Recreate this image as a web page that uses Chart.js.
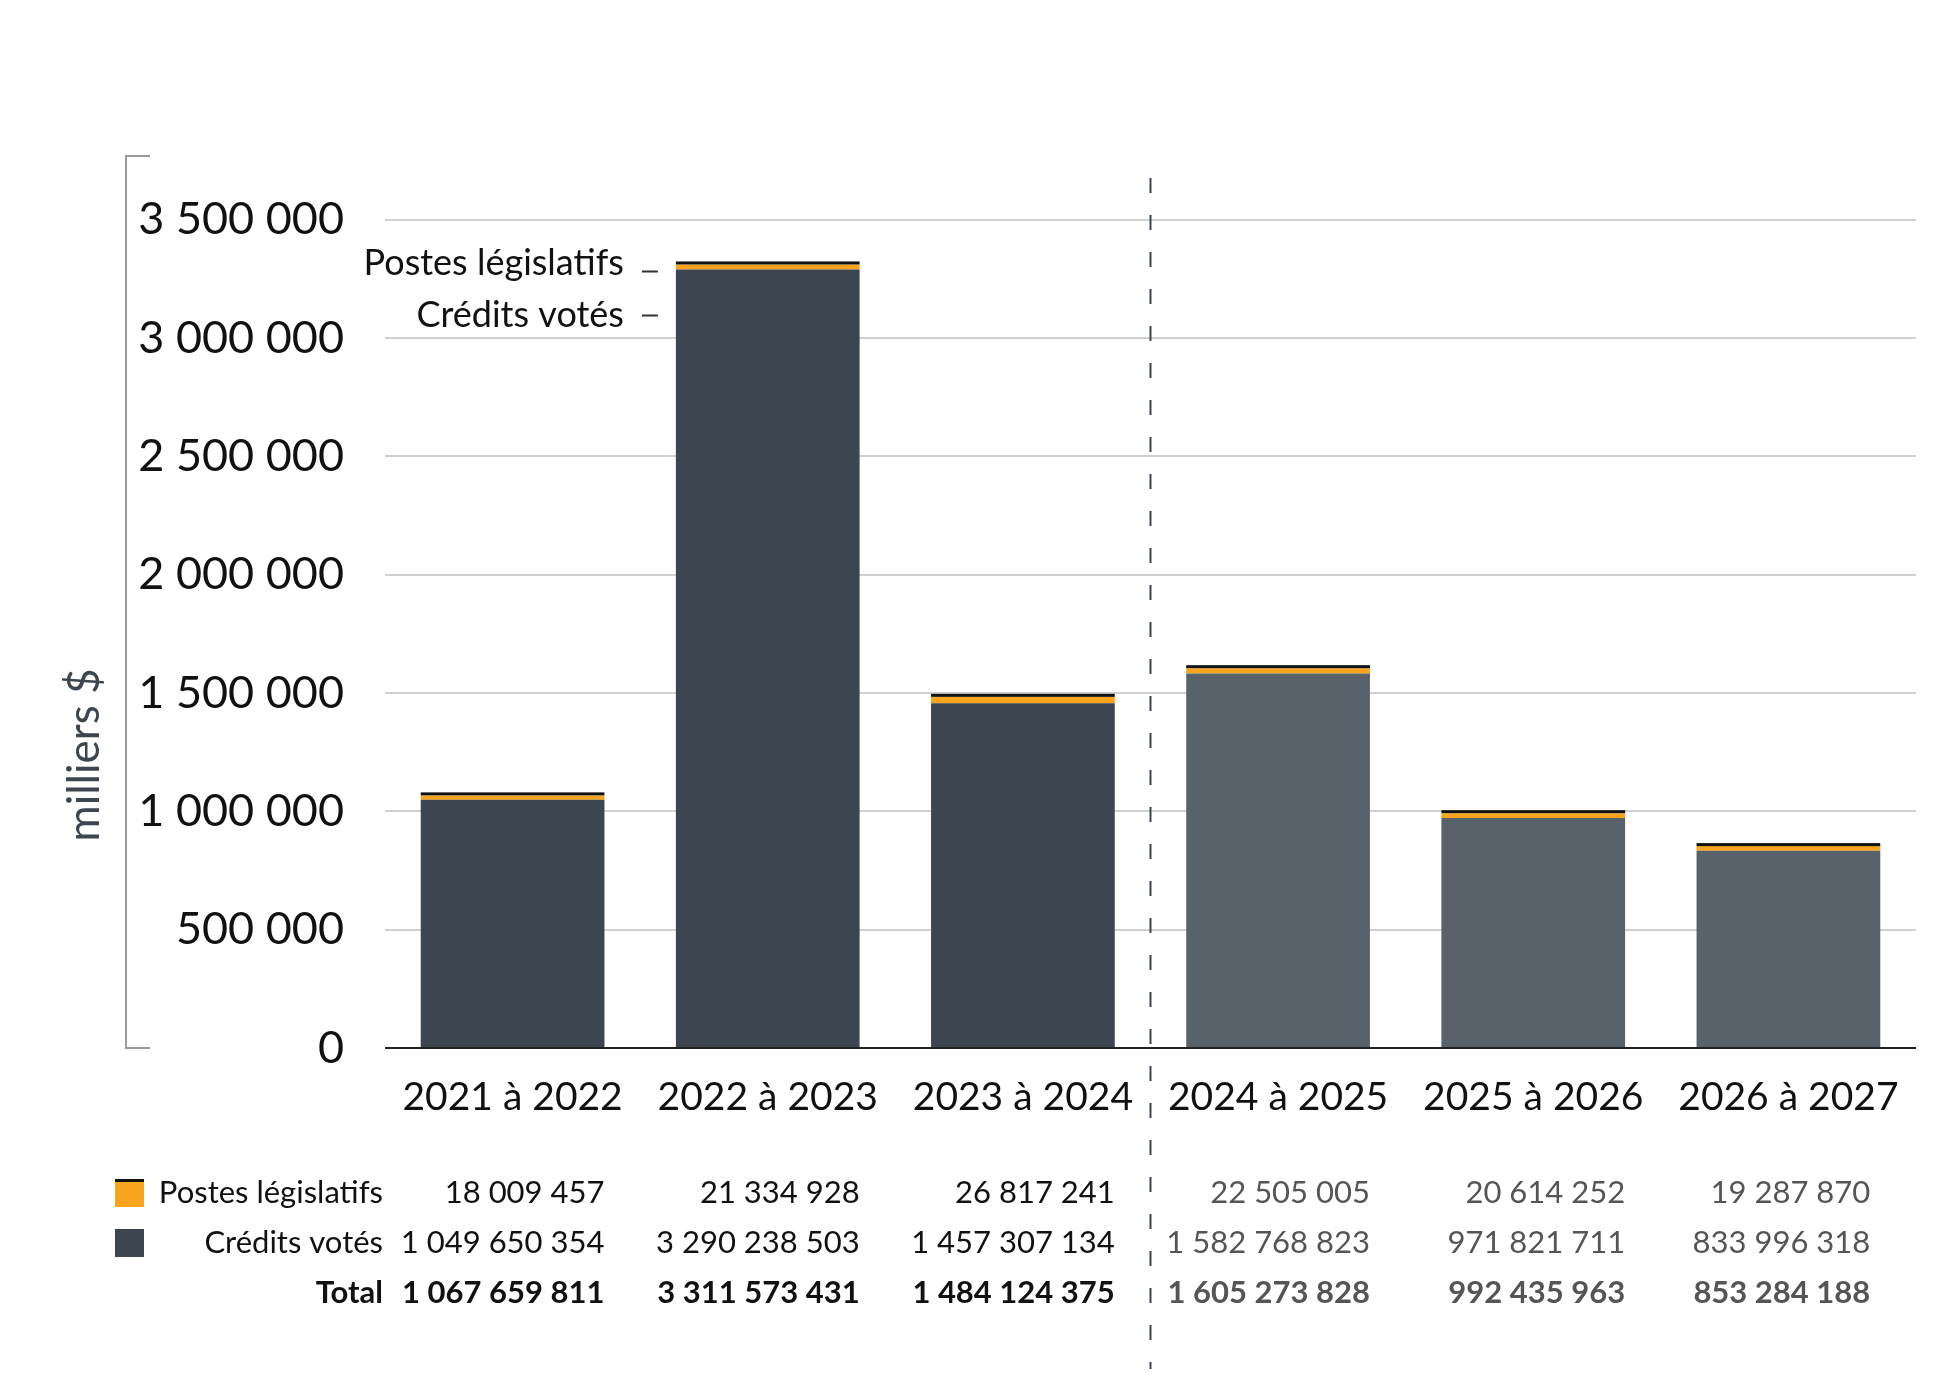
<!DOCTYPE html>
<html>
<head>
<meta charset="utf-8">
<script src="https://cdn.jsdelivr.net/npm/chart.js@4.4.1/dist/chart.umd.min.js"></script>
<style>
  html, body { margin: 0; padding: 0; background: #fff; }
  #wrap { width: 1947px; height: 1375px; position: relative; }
</style>
</head>
<body>
<div id="wrap"><canvas id="c"></canvas></div>
<script>
// ---- Data ----
const categories = ['2021 à 2022', '2022 à 2023', '2023 à 2024', '2024 à 2025', '2025 à 2026', '2026 à 2027'];
const postesLegislatifs = [18009457, 21334928, 26817241, 22505005, 20614252, 19287870];
const creditsVotes = [1049650354, 3290238503, 1457307134, 1582768823, 971821711, 833996318];
const totals = [1067659811, 3311573431, 1484124375, 1605273828, 992435963, 853284188];
const yTicks = [0, 500000, 1000000, 1500000, 2000000, 2500000, 3000000, 3500000];
const seriesLabels = ['Postes législatifs', 'Crédits votés'];
const totalLabel = 'Total';
const yAxisTitle = 'milliers $';
const forecastStart = 3; // index of first forecast year
const yMax = 3770000;

// ---- Styles ----
const ORANGE = '#f8a51d';
const DARK = '#3d4650';
const DARK_FC = '#58626b';
const FONT = 'Lato, "Open Sans", sans-serif';

const fmt = n => Math.round(n).toString().replace(/\B(?=(\d{3})+(?!\d))/g, ' ');

const creditsK = creditsVotes.map(v => v / 1000);
const postesK = postesLegislatifs.map(v => v / 1000);
const darkColors = categories.map((_, i) => i >= forecastStart ? DARK_FC : DARK);

const overlay = {
  id: 'overlay',
  afterDatasetsDraw(chart) {
    const ctx = chart.ctx;
    const ca = chart.chartArea;
    const y = chart.scales.y;
    const xs = chart.scales.x;
    const mOr = chart.getDatasetMeta(1);
    const mDk = chart.getDatasetMeta(0);
    ctx.save();
    // black line on top of orange segments
    mOr.data.forEach(el => {
      ctx.fillStyle = '#111';
      ctx.fillRect(el.x - el.width / 2, el.y - 3, el.width, 3);
    });
    // bracket on the left
    ctx.strokeStyle = '#9a9a9a';
    ctx.lineWidth = 2;
    ctx.beginPath();
    ctx.moveTo(126 + 24, ca.top);
    ctx.lineTo(126, ca.top);
    ctx.lineTo(126, ca.bottom);
    ctx.lineTo(126 + 24, ca.bottom);
    ctx.stroke();
    // baseline
    ctx.strokeStyle = '#222';
    ctx.lineWidth = 2;
    ctx.beginPath();
    ctx.moveTo(ca.left, y.getPixelForValue(0));
    ctx.lineTo(ca.right, y.getPixelForValue(0));
    ctx.stroke();
    // dashed separator between actual and forecast
    const sepX = (xs.getPixelForValue(forecastStart - 1) + xs.getPixelForValue(forecastStart)) / 2;
    ctx.strokeStyle = DARK;
    ctx.lineWidth = 2;
    ctx.setLineDash([15, 22]);
    ctx.beginPath();
    ctx.moveTo(sepX, ca.top + 22);
    ctx.lineTo(sepX, chart.height - 6);
    ctx.stroke();
    ctx.setLineDash([]);
    // y axis title
    ctx.save();
    ctx.translate(85, (ca.top + ca.bottom) / 2 + 153);
    ctx.rotate(-Math.PI / 2);
    ctx.fillStyle = DARK;
    ctx.font = '400 44px ' + FONT;
    ctx.textAlign = 'center';
    ctx.textBaseline = 'middle';
    ctx.fillText(yAxisTitle, 0, 0);
    ctx.restore();
    // annotations on bar 2
    const idx = 1;
    const bO = mOr.data[idx], bD = mDk.data[idx];
    const leftEdge = bO.x - bO.width / 2;
    ctx.fillStyle = '#111';
    ctx.font = '400 36px ' + FONT;
    ctx.textAlign = 'right';
    ctx.textBaseline = 'middle';
    ctx.fillText(seriesLabels[0], leftEdge - 52, bO.y - 1);
    ctx.fillText(seriesLabels[1], leftEdge - 52, bD.y + 46);
    ctx.strokeStyle = '#333';
    ctx.lineWidth = 2;
    ctx.beginPath();
    ctx.moveTo(leftEdge - 34, bO.y + 7); ctx.lineTo(leftEdge - 18, bO.y + 7);
    ctx.moveTo(leftEdge - 34, bD.y + 46); ctx.lineTo(leftEdge - 18, bD.y + 46);
    ctx.stroke();
    // data table
    const rowsY = [1193, 1243, 1293];
    const labelRight = ca.left - 2;
    ctx.textAlign = 'right';
    ctx.textBaseline = 'middle';
    const rows = [postesLegislatifs, creditsVotes, totals];
    const rowNames = [seriesLabels[0], seriesLabels[1], totalLabel];
    rows.forEach((row, r) => {
      ctx.fillStyle = '#111';
      ctx.font = (r === 2 ? '700 ' : '400 ') + '31px ' + FONT;
      ctx.fillText(rowNames[r], labelRight, rowsY[r]);
      row.forEach((v, i) => {
        const el = mDk.data[i];
        ctx.fillStyle = i >= forecastStart ? '#555' : '#111';
        ctx.fillText(fmt(v), el.x + el.width / 2 - (i === categories.length - 1 ? 10 : 0), rowsY[r]);
      });
    });
    // legend squares
    ctx.fillStyle = ORANGE;
    ctx.fillRect(115, rowsY[0] - 14, 29, 28);
    ctx.fillStyle = '#111';
    ctx.fillRect(115, rowsY[0] - 14, 29, 3);
    ctx.fillStyle = DARK;
    ctx.fillRect(115, rowsY[1] - 14, 29, 28);
    ctx.restore();
  }
};

new Chart(document.getElementById('c'), {
  type: 'bar',
  data: {
    labels: categories,
    datasets: [
      { label: seriesLabels[1], data: creditsK, backgroundColor: darkColors, borderWidth: 0, barPercentage: 0.72, categoryPercentage: 1 },
      { label: seriesLabels[0], data: postesK, backgroundColor: ORANGE, borderWidth: 0, barPercentage: 0.72, categoryPercentage: 1 }
    ]
  },
  options: {
    responsive: true,
    maintainAspectRatio: false,
    animation: false,
    devicePixelRatio: 1,
    layout: { padding: { left: 126, right: 31, top: 156, bottom: 0 } },
    plugins: { legend: { display: false }, tooltip: { enabled: false } },
    scales: {
      x: {
        stacked: true,
        grid: { display: false, drawTicks: false },
        border: { display: false },
        ticks: { color: '#111', font: { family: FONT, size: 39, weight: '400' }, padding: 26, maxRotation: 0 },
        afterFit(s) { s.height = 327; }
      },
      y: {
        stacked: true,
        min: 0,
        max: yMax,
        grid: { color: '#cfcfcf', lineWidth: 2, drawTicks: false },
        border: { display: false },
        ticks: {
          color: '#111',
          padding: 41,
          font: { family: FONT, size: 45, weight: '400' },
          callback: v => fmt(v)
        },
        afterBuildTicks(s) { s.ticks = yTicks.map(v => ({ value: v })); },
        afterFit(s) { s.width = 259; }
      }
    }
  },
  plugins: [overlay]
});
</script>
</body>
</html>
